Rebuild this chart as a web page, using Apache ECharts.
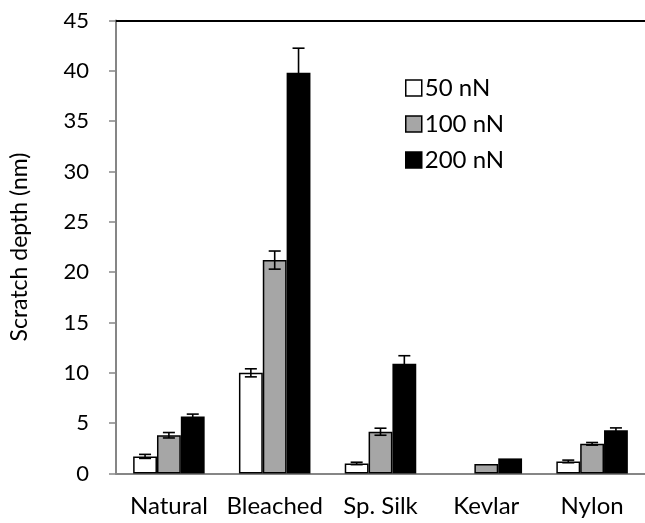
<!DOCTYPE html>
<html>
<head>
<meta charset="utf-8">
<script src="https://cdn.jsdelivr.net/npm/echarts@6/dist/echarts.min.js"></script>
<style>
  html, body { margin: 0; padding: 0; background: #fff; }
  #chart { width: 645px; height: 523px; }
</style>
</head>
<body>
<div id="chart"></div>
<script>
// data
var categories = ['Natural', 'Bleached', 'Sp. Silk', 'Kevlar', 'Nylon'];
var seriesNames = ['50 nN', '100 nN', '200 nN'];
var depth50  = [1.7, 10.0, 1.0, null, 1.2];
var depth100 = [3.8, 21.2, 4.15, 0.95, 2.95];
var depth200 = [5.65, 39.8, 10.9, 1.5, 4.3];
var err50  = [0.2, 0.4, 0.12, null, 0.13];
var err100 = [0.27, 0.9, 0.35, 0, 0.13];
var err200 = [0.25, 2.45, 0.8, 0, 0.23];
var yTicks = [0, 5, 10, 15, 20, 25, 30, 35, 40, 45];

var FONT = 'Lato, "Open Sans", sans-serif';
var catGap = 0.324;   // barCategoryGap as fraction
var colors = ['#ffffff', '#a6a6a6', '#000000'];

var myChart = echarts.init(document.getElementById('chart'));

function errSeries(k, vals, errs) {
    var data = [];
    vals.forEach(function (v, i) {
        if (v != null && errs[i]) data.push([i, v, errs[i]]);
    });
    return {
        type: 'custom',
        z: 10,
        silent: true,
        data: data,
        renderItem: function (params, api) {
            var i = api.value(0), v = api.value(1), e = api.value(2);
            var hi = api.coord([i, v + e]);
            var lo = api.coord([i, v - e]);
            var catW = api.size([1, 0])[0];
            var bw = catW * (1 - catGap) / 3;
            var cx = hi[0] + (k - 1) * bw;
            var h = 6;
            var st = { stroke: '#000', lineWidth: 1.6 };
            return {
                type: 'group',
                children: [
                    { type: 'line', shape: { x1: cx, y1: hi[1], x2: cx, y2: lo[1] }, style: st },
                    { type: 'line', shape: { x1: cx - h, y1: hi[1], x2: cx + h, y2: hi[1] }, style: st },
                    { type: 'line', shape: { x1: cx - h, y1: lo[1], x2: cx + h, y2: lo[1] }, style: st }
                ]
            };
        }
    };
}

function barSeries(k, vals) {
    return {
        name: seriesNames[k],
        type: 'bar',
        data: vals,
        barGap: '0%',
        barCategoryGap: (catGap * 100) + '%',
        itemStyle: {
            color: colors[k],
            borderColor: '#000',
            borderWidth: k === 2 ? 0 : 1.5
        }
    };
}

var option = {
    animation: false,
    textStyle: { fontFamily: FONT },
    grid: { left: 111, top: 20.5, width: 543, bottom: 49.5 },
    legend: {
        orient: 'vertical',
        left: 400,
        top: 71,
        itemWidth: 16,
        itemHeight: 16,
        itemGap: 12,
        icon: 'rect',
        selectedMode: false,
        textStyle: { fontFamily: FONT, fontSize: 24, color: '#000', padding: [0, 0, 0, -2] },
        data: seriesNames.map(function (n, k) {
            return { name: n, itemStyle: { color: colors[k], borderColor: '#000', borderWidth: 1.5 } };
        })
    },
    xAxis: [{
        type: 'category',
        data: categories,
        axisLine: { lineStyle: { color: '#868686', width: 2 } },
        axisTick: { show: false },
        axisLabel: { color: '#000', fontSize: 24, fontFamily: FONT, margin: 21, interval: 0 }
    }, {
        type: 'category',
        position: 'top',
        data: categories,
        axisLine: { show: true, lineStyle: { color: '#000', width: 2 } },
        axisTick: { show: false },
        axisLabel: { show: false }
    }],
    yAxis: {
        type: 'value',
        min: yTicks[0],
        max: yTicks[yTicks.length - 1],
        interval: 5,
        name: 'Scratch depth (nm)',
        nameLocation: 'middle',
        nameGap: 85,
        nameTextStyle: { fontSize: 23, fontFamily: FONT, color: '#000' },
        axisLine: { show: true, lineStyle: { color: '#868686', width: 2 } },
        axisTick: { show: true, length: 7, lineStyle: { color: '#868686', width: 1.5 } },
        axisLabel: { color: '#000', fontSize: 22, fontFamily: FONT, margin: 27 },
        splitLine: { show: false }
    },
    series: [
        barSeries(0, depth50),
        barSeries(1, depth100),
        barSeries(2, depth200),
        errSeries(0, depth50, err50),
        errSeries(1, depth100, err100),
        errSeries(2, depth200, err200)
    ]
};
myChart.setOption(option);
</script>
</body>
</html>
